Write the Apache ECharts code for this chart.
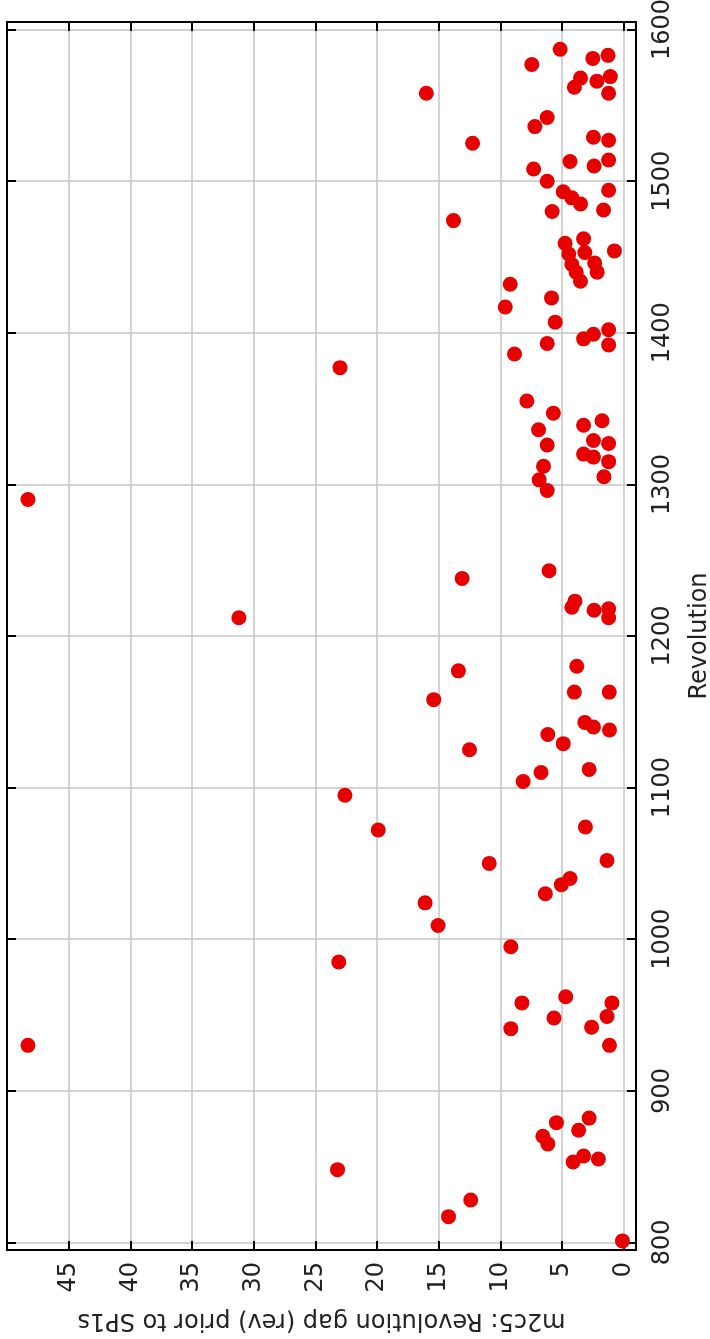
<!DOCTYPE html>
<html>
<head>
<meta charset="utf-8">
<script src="https://cdn.jsdelivr.net/npm/echarts@6/dist/echarts.min.js"></script>
<style>
  html, body { margin: 0; padding: 0; background: #ffffff; overflow: hidden; }
  #chart { width: 710px; height: 1339px; }
</style>
</head>
<body>
<div id="chart"></div>
<script>
// Revolution number of each SP1s event and the revolution gap before it
const revolutions = [
  1558, 1587, 1577, 1581, 1583, 1568, 1562, 1566, 1569, 1558,
  1525, 1536, 1542, 1529, 1527, 1513, 1510, 1514, 1508, 1500,
  1493, 1489, 1485, 1494, 1481, 1480, 1474, 1459, 1462, 1454,
  1452, 1445, 1440, 1434, 1453, 1446, 1440, 1432, 1417, 1423,
  1407, 1393, 1386, 1396, 1399, 1402, 1392, 1377, 1355, 1347,
  1336, 1326, 1339, 1342, 1329, 1327, 1320, 1318, 1315, 1305,
  1312, 1303, 1296, 1290, 1243, 1238, 1223, 1219, 1217, 1218,
  1212, 1212,
  1180, 1177, 1163, 1163, 1158, 1143, 1140, 1138, 1135, 1129,
  1125, 1112, 1110, 1104, 1095, 1074, 1072, 1052, 1050, 1040,
  1036, 1030, 1024, 1009, 995, 985, 962, 958, 958, 949,
  948, 942, 941, 930, 930, 882, 879, 874, 870, 865,
  857, 855, 853, 848, 828, 817, 801
];
const gaps = [
  16.0, 5.15, 7.45, 2.5, 1.27, 3.5, 4.0, 2.17, 1.08, 1.22,
  12.25, 7.2, 6.2, 2.45, 1.22, 4.35, 2.4, 1.22, 7.3, 6.2,
  4.9, 4.2, 3.5, 1.22, 1.63, 5.8, 13.8, 4.75, 3.25, 0.75,
  4.45, 4.2, 3.85, 3.5, 3.15, 2.35, 2.15, 9.2, 9.6, 5.85,
  5.55, 6.2, 8.85, 3.25, 2.45, 1.22, 1.22, 23.0, 7.85, 5.7,
  6.9, 6.2, 3.25, 1.75, 2.45, 1.22, 3.25, 2.45, 1.22, 1.6,
  6.5, 6.85, 6.2, 48.3, 6.05, 13.1, 3.95, 4.2, 2.4, 1.22,
  1.22, 31.2,
  3.8, 13.4, 4.0, 1.17, 15.4, 3.15, 2.45, 1.15, 6.15, 4.9,
  12.5, 2.8, 6.7, 8.15, 22.6, 3.1, 19.9, 1.35, 10.9, 4.35,
  5.05, 6.35, 16.1, 15.05, 9.15, 23.1, 4.7, 8.25, 0.95, 1.35,
  5.65, 2.6, 9.15, 1.15, 48.3, 2.8, 5.45, 3.65, 6.55, 6.15,
  3.25, 2.05, 4.1, 23.2, 12.4, 14.2, 0.1
];

// Tick positions of both axes
const gapTicks = [0, 5, 10, 15, 20, 25, 30, 35, 40, 45];
const revolutionTicks = [800, 900, 1000, 1100, 1200, 1300, 1400, 1500, 1600];

const gapTitle = 'm2c5: Revolution gap (rev) prior to SP1s';
const revolutionTitle = 'Revolution';

const points = revolutions.map((r, i) => [gaps[i], r]);

const FONT = 'DejaVu Sans';
const TEXT = '#222222';
const frameLine = { show: true, onZero: false, lineStyle: { color: '#000000', width: 2 } };
const innerTick = (values) => ({
  show: true, inside: true, length: 9, customValues: values,
  lineStyle: { color: '#000000', width: 2 }
});
const gridLine = { show: true, lineStyle: { color: '#c4c4c4', width: 1.5 } };
const plain = (v) => String(v);

const chart = echarts.init(document.getElementById('chart'), null, { renderer: 'canvas' });
chart.setOption({
  animation: false,
  backgroundColor: '#ffffff',
  grid: {
    left: 7, right: 74, top: 22, bottom: 89,
    containLabel: false,
    outerBoundsMode: 'none'
  },
  xAxis: [
    {
      type: 'value', position: 'bottom', inverse: true, min: -1, max: 50,
      name: gapTitle, nameLocation: 'middle', nameRotate: 180, nameGap: 58,
      nameTextStyle: { fontFamily: FONT, fontSize: 24, color: TEXT },
      axisLine: frameLine,
      axisTick: innerTick(gapTicks),
      axisLabel: {
        customValues: gapTicks, rotate: 90, margin: 12, formatter: plain,
        fontFamily: FONT, fontSize: 24, color: TEXT
      },
      splitLine: gridLine
    },
    {
      type: 'value', position: 'top', inverse: true, min: -1, max: 50,
      axisLine: frameLine,
      axisTick: innerTick(gapTicks),
      axisLabel: { show: false },
      splitLine: { show: false }
    }
  ],
  yAxis: [
    {
      type: 'value', position: 'right', min: 795, max: 1605,
      name: revolutionTitle, nameLocation: 'middle', nameRotate: 90, nameGap: 52,
      nameTextStyle: { fontFamily: FONT, fontSize: 24, color: TEXT },
      axisLine: frameLine,
      axisTick: innerTick(revolutionTicks),
      axisLabel: {
        customValues: revolutionTicks, rotate: 90, margin: 15, formatter: plain,
        fontFamily: FONT, fontSize: 24, color: TEXT
      },
      splitLine: gridLine
    },
    {
      type: 'value', position: 'left', min: 795, max: 1605,
      axisLine: frameLine,
      axisTick: innerTick(revolutionTicks),
      axisLabel: { show: false },
      splitLine: { show: false }
    }
  ],
  series: [
    {
      type: 'scatter',
      xAxisIndex: 0,
      yAxisIndex: 0,
      data: points,
      symbol: 'circle',
      symbolSize: 15,
      itemStyle: { color: '#e60000', opacity: 1 },
      z: 5
    }
  ]
});
</script>
</body>
</html>
